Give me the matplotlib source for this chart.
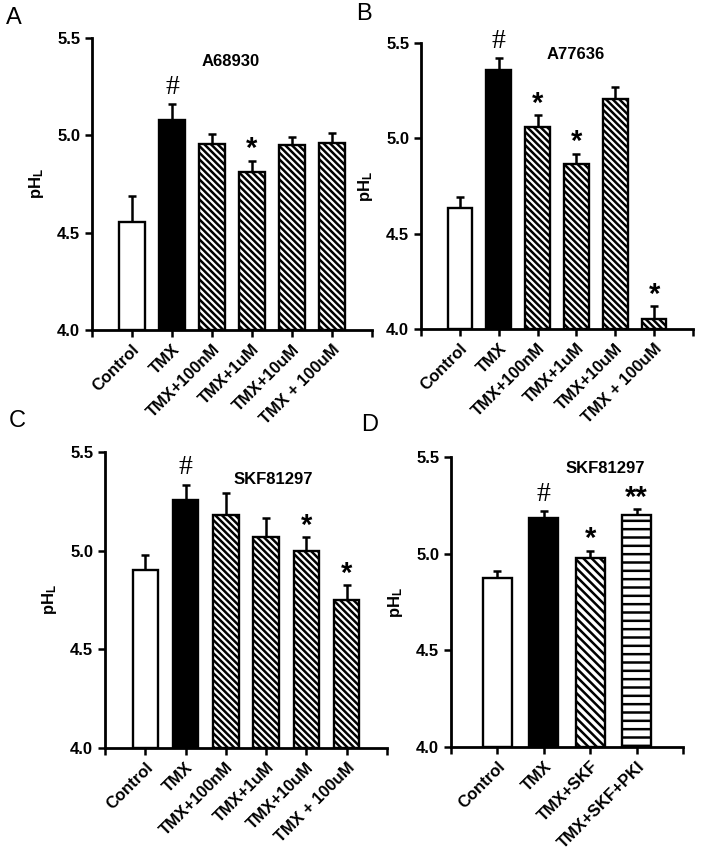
import numpy as np
import matplotlib.pyplot as plt

plt.rcParams['font.family'] = ['Liberation Sans', 'DejaVu Sans']
plt.rcParams['mathtext.fontset'] = 'custom'
plt.rcParams['mathtext.rm'] = 'Liberation Sans'
plt.rcParams['mathtext.bf'] = 'Liberation Sans:bold'
plt.rcParams['hatch.linewidth'] = 1.8

# ---- данные ----
labels_dose = ['Control', 'TMX', 'TMX+100nM', 'TMX+1uM', 'TMX+10uM', 'TMX + 100uM']
labels_pki = ['Control', 'TMX', 'TMX+SKF', 'TMX+SKF+PKI']

a_mean = [4.555, 5.08, 4.955, 4.81, 4.95, 4.96]
a_sem = [0.135, 0.08, 0.05, 0.06, 0.04, 0.05]
a_marks = ['', '#', '', '*', '', '']

b_mean = [4.635, 5.36, 5.06, 4.865, 5.205, 4.05]
b_sem = [0.06, 0.06, 0.06, 0.055, 0.065, 0.07]
b_marks = ['', '#', '*', '*', '', '*']

c_mean = [4.90, 5.255, 5.18, 5.07, 5.0, 4.75]
c_sem = [0.08, 0.08, 0.11, 0.095, 0.07, 0.075]
c_marks = ['', '#', '', '', '*', '*']

d_mean = [4.875, 5.185, 4.98, 5.20]
d_sem = [0.035, 0.037, 0.036, 0.03]
d_marks = ['', '#', '*', '**']

styles_dose = ['open', 'solid', 'diag', 'diag', 'diag', 'diag']
styles_pki = ['open', 'solid', 'diag', 'horiz']

drugs = ['A68930', 'A77636', 'SKF81297', 'SKF81297']


def draw_panel(ax, means, sems, labels, styles, marks, title, title_xy, diag='\\' * 5):
    x = np.arange(len(means))
    for i in range(len(means)):
        st = styles[i]
        fc = 'black' if st == 'solid' else 'white'
        hatch = {'diag': diag, 'horiz': '--'}.get(st, None)
        ax.bar(x[i], means[i] - 4.0, bottom=4.0, width=0.63, color=fc,
               edgecolor='black', linewidth=1.7, hatch=hatch, zorder=2)
    ax.errorbar(x, means, yerr=[np.zeros(len(sems)), sems], fmt='none',
                ecolor='black', elinewidth=1.8, capsize=3, capthick=1.8, zorder=1)
    for i, m in enumerate(marks):
        if not m:
            continue
        top = means[i] + sems[i]
        if m == '#':
            ax.annotate(m, (x[i], top), xytext=(0, 3), textcoords='offset points',
                        ha='center', va='bottom', fontsize=20, family='Liberation Serif')
        else:
            ax.annotate(m, (x[i], top), xytext=(0, -2), textcoords='offset points',
                        ha='center', va='bottom', fontsize=21, fontweight='bold')
    ax.text(title_xy[0], title_xy[1], title, ha='center', va='center',
            fontsize=12, fontweight='bold')

    ax.set_ylim(4.0, 5.5)
    ax.set_xlim(-1, len(means))
    ax.set_yticks([4.0, 4.5, 5.0, 5.5])
    ax.set_yticklabels(['4.0', '4.5', '5.0', '5.5'], fontsize=12, fontweight='bold')
    ax.set_xticks(np.arange(-1, len(means) + 1))
    ax.set_xticklabels([''] + labels + [''], rotation=45, ha='right',
                       rotation_mode='anchor', fontsize=12, fontweight='bold')
    ax.tick_params(width=1.8, length=5, direction='out')
    ax.set_ylabel(r'$\mathbf{pH_L}$', fontsize=12, labelpad=8)
    for s in ['top', 'right']:
        ax.spines[s].set_visible(False)
    for s in ['left', 'bottom']:
        ax.spines[s].set_linewidth(2)


fig = plt.figure(figsize=(7.01, 8.67), dpi=100)

axA = fig.add_axes([0.1312, 0.6194, 0.3995, 0.3368])
axB = fig.add_axes([0.6006, 0.6205, 0.3880, 0.3299])
axC = fig.add_axes([0.1498, 0.1373, 0.4022, 0.3414])
axD = fig.add_axes([0.6434, 0.1384, 0.3309, 0.3345])

draw_panel(axA, a_mean, a_sem, labels_dose, styles_dose, a_marks, drugs[0], (2.46, 5.38))
draw_panel(axB, b_mean, b_sem, labels_dose, styles_dose, b_marks, drugs[1], (2.97, 5.44))
draw_panel(axC, c_mean, c_sem, labels_dose, styles_dose, c_marks, drugs[2], (3.17, 5.36))
draw_panel(axD, d_mean, d_sem, labels_pki, styles_pki, d_marks, drugs[3], (2.33, 5.44),
           diag='\\' * 4)

for letter, (fx, fy) in zip('ABCD', [(0.008, 0.992), (0.508, 0.996), (0.012, 0.527), (0.515, 0.522)]):
    fig.text(fx, fy, letter, fontsize=17, ha='left', va='top')

fig.savefig('out.png', dpi=100)
